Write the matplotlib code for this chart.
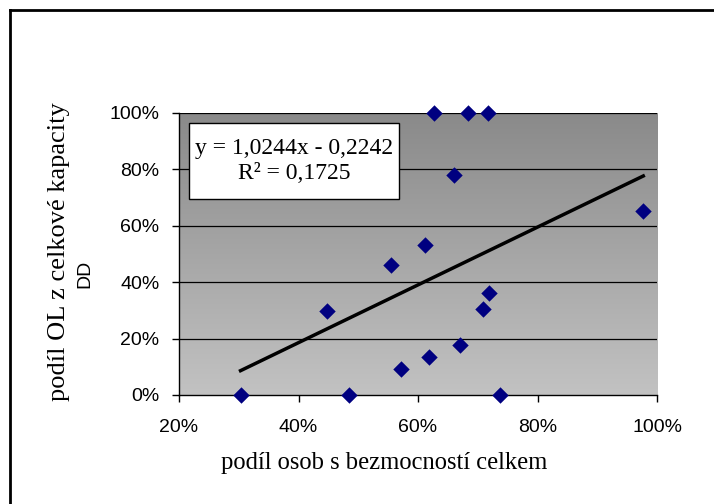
import numpy as np
import matplotlib
matplotlib.use("Agg")
import matplotlib.pyplot as plt
from matplotlib.lines import Line2D
from matplotlib.patches import Rectangle

# share of people with disability vs. share of OL in total DD capacity
x_vals = [0.303, 0.448, 0.484, 0.554, 0.571, 0.612, 0.619, 0.626, 0.660,
          0.671, 0.684, 0.709, 0.717, 0.719, 0.738, 0.977]
y_vals = [0.000, 0.298, 0.000, 0.461, 0.093, 0.532, 0.136, 1.000, 0.779,
          0.177, 1.000, 0.305, 1.000, 0.363, 0.000, 0.652]

# linear trend as reported in the label
slope, intercept, r2 = 1.0244, -0.2242, 0.1725

x_ticks = [0.2, 0.4, 0.6, 0.8, 1.0]
y_ticks = [0.0, 0.2, 0.4, 0.6, 0.8, 1.0]

fig = plt.figure(figsize=(7.14, 5.04), dpi=100)
ax = fig.add_axes([0.2507, 0.2163, 0.6695, 0.5595])

# grey gradient background, darker at the top
grad = np.linspace(0, 1, 256).reshape(-1, 1)
ax.imshow(grad, extent=[0, 1, 0, 1], transform=ax.transAxes, aspect="auto",
          cmap=matplotlib.colors.LinearSegmentedColormap.from_list(
              "bg", ["#8a8a8a", "#c2c2c2"]), zorder=0)

ax.set_xlim(0.2, 1.0)
ax.set_ylim(0.0, 1.0)

for yt in y_ticks[1:]:
    ax.axhline(yt, color="black", lw=0.9, zorder=1)

tx = np.array([min(x_vals), max(x_vals)])
ax.plot(tx, slope * tx + intercept, color="black", lw=2.5, zorder=2)

ax.scatter(x_vals, y_vals, marker="D", s=70, color="#000080", zorder=3,
           clip_on=False, linewidths=0)

ax.set_xticks(x_ticks)
ax.set_yticks(y_ticks)
ax.set_xticklabels([f"{int(round(t * 100))}%" for t in x_ticks],
                   fontname="Liberation Sans", fontsize=14)
ax.set_yticklabels([f"{int(round(t * 100))}%" for t in y_ticks],
                   fontname="Liberation Sans", fontsize=14)
ax.tick_params(axis="both", direction="out", length=5, width=1, color="black")
ax.tick_params(axis="x", pad=12)
ax.tick_params(axis="y", pad=9)

for side in ["top", "right"]:
    ax.spines[side].set_visible(False)
for side in ["left", "bottom"]:
    ax.spines[side].set_color("black")
    ax.spines[side].set_linewidth(1)

# axis titles
fig.text(0.538, 0.082, "podíl osob s bezmocností celkem",
         fontname="Liberation Serif", fontsize=17.7, ha="center", va="center")
fig.text(0.083, 0.50, "podíl OL z celkové kapacity",
         fontname="Liberation Serif", fontsize=19, ha="center", va="center",
         rotation=90)
fig.text(0.119, 0.456, "DD", fontname="Liberation Sans", fontsize=14,
         ha="center", va="center", rotation=90)

# trend equation box
ax.add_patch(Rectangle((0.021, 0.695), 0.439, 0.27, transform=ax.transAxes,
                       fc="white", ec="black", lw=1, zorder=4))
eq = f"y = {slope:.4f}x - {abs(intercept):.4f}".replace(".", ",")
r2_txt = f"R² = {r2:.4f}".replace(".", ",")
ax.text(0.241, 0.83, eq + "\n" + r2_txt,
        transform=ax.transAxes, fontname="Liberation Serif", fontsize=17,
        ha="center", va="center", linespacing=1.25, zorder=5)

# outer chart frame
fig.add_artist(Line2D([0.0135, 1.0], [0.980, 0.980], color="black", lw=2,
                      transform=fig.transFigure))
fig.add_artist(Line2D([0.0135, 0.0135], [0.0, 0.980], color="black", lw=2,
                      transform=fig.transFigure))

fig.savefig("out.png", dpi=100)
